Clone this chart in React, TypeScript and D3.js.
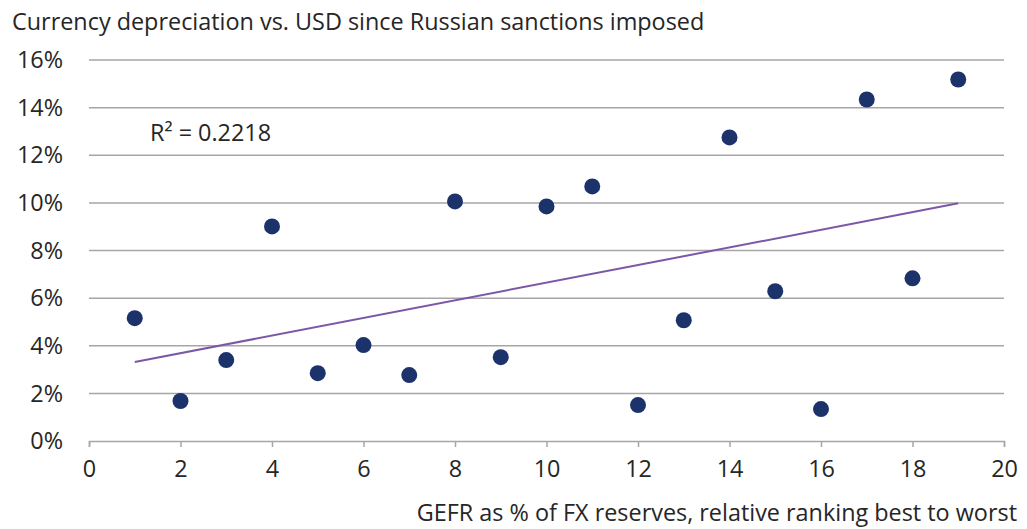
import React, { useRef, useEffect } from "react";
import { scaleLinear, select, line, axisBottom, range } from "d3";

// Ranking vs. depreciation (%)
const ranking = [1, 2, 3, 4, 5, 6, 7, 8, 9, 10, 11, 12, 13, 14, 15, 16, 17, 18, 19];
const depreciation = [5.16, 1.68, 3.4, 9.01, 2.85, 4.03, 2.77, 10.06, 3.52, 9.85, 10.69, 1.51, 5.07, 12.75, 6.29, 1.34, 14.34, 6.83, 15.18];
const xTicks = [0, 2, 4, 6, 8, 10, 12, 14, 16, 18, 20];
const yTicks = [0, 2, 4, 6, 8, 10, 12, 14, 16];
const title = "Currency depreciation vs. USD since Russian sanctions imposed";
const xTitle = "GEFR as % of FX reserves, relative ranking best to worst";
const rLabel = "R² = 0.2218";

const W = 1027, H = 529;
const margin = { top: 60, right: 23, bottom: 88, left: 89 };
const font = "'Open Sans', 'Noto Sans', sans-serif";
const fs = 23.4;
const textColor = "#262626";
const gridColor = "#a6a6a6";

export default function App() {
  const svgRef = useRef<SVGSVGElement>(null);

  useEffect(() => {
    const svg = select(svgRef.current);
    svg.selectAll("*").remove();

    const x = scaleLinear().domain([0, 20]).range([margin.left, W - margin.right]);
    const y = scaleLinear().domain([0, 16]).range([H - margin.bottom, margin.top]);

    // grid lines
    svg.append("g")
      .selectAll("line")
      .data(yTicks.filter(d => d > 0))
      .join("line")
      .attr("x1", x(0)).attr("x2", x(20))
      .attr("y1", d => y(d)).attr("y2", d => y(d))
      .attr("stroke", gridColor).attr("stroke-width", 1.5);

    // y labels
    svg.append("g")
      .selectAll("text")
      .data(yTicks)
      .join("text")
      .attr("x", 63).attr("y", d => y(d))
      .attr("dy", "0.35em")
      .attr("text-anchor", "end")
      .attr("font-family", font).attr("font-size", fs).attr("fill", textColor)
      .text(d => d + "%");

    // x axis
    const xa = svg.append("g")
      .attr("transform", `translate(0,${y(0)})`)
      .call(axisBottom(x).tickValues(xTicks).tickSize(6).tickSizeOuter(6).tickPadding(13));
    xa.select(".domain").attr("stroke", gridColor).attr("stroke-width", 1.5);
    xa.selectAll(".tick line").attr("stroke", gridColor).attr("stroke-width", 1.5);
    xa.selectAll(".tick text")
      .attr("font-family", font).attr("font-size", fs).attr("fill", textColor);

    // trend line (least squares)
    const n = ranking.length;
    const mx = ranking.reduce((a, b) => a + b, 0) / n;
    const my = depreciation.reduce((a, b) => a + b, 0) / n;
    let sxy = 0, sxx = 0;
    ranking.forEach((v, i) => { sxy += (v - mx) * (depreciation[i] - my); sxx += (v - mx) ** 2; });
    const slope = sxy / sxx;
    const icpt = my - slope * mx;
    const ends = [ranking[0], ranking[n - 1]];
    svg.append("path")
      .datum(ends)
      .attr("d", line<number>().x(d => x(d)).y(d => y(icpt + slope * d)))
      .attr("fill", "none")
      .attr("stroke", "#7b58a6")
      .attr("stroke-width", 2);

    // points
    svg.append("g")
      .selectAll("circle")
      .data(range(n))
      .join("circle")
      .attr("cx", i => x(ranking[i]))
      .attr("cy", i => y(depreciation[i]))
      .attr("r", 8)
      .attr("fill", "#1c326a");

    svg.append("text")
      .attr("x", 150).attr("y", 133).attr("dy", "0.35em")
      .attr("font-family", font).attr("font-size", fs).attr("fill", textColor)
      .text(rLabel);

    svg.append("text")
      .attr("x", 12).attr("y", 22).attr("dy", "0.35em")
      .attr("font-family", font).attr("font-size", fs).attr("fill", textColor)
      .text(title);

    svg.append("text")
      .attr("x", 1017).attr("y", 513).attr("dy", "0.35em")
      .attr("text-anchor", "end")
      .attr("font-family", font).attr("font-size", fs).attr("fill", textColor)
      .text(xTitle);
  }, []);

  return (
    <svg ref={svgRef} width={W} height={H}
      style={{ position: "absolute", left: 0, top: 0, background: "#fff" }} />
  );
}
